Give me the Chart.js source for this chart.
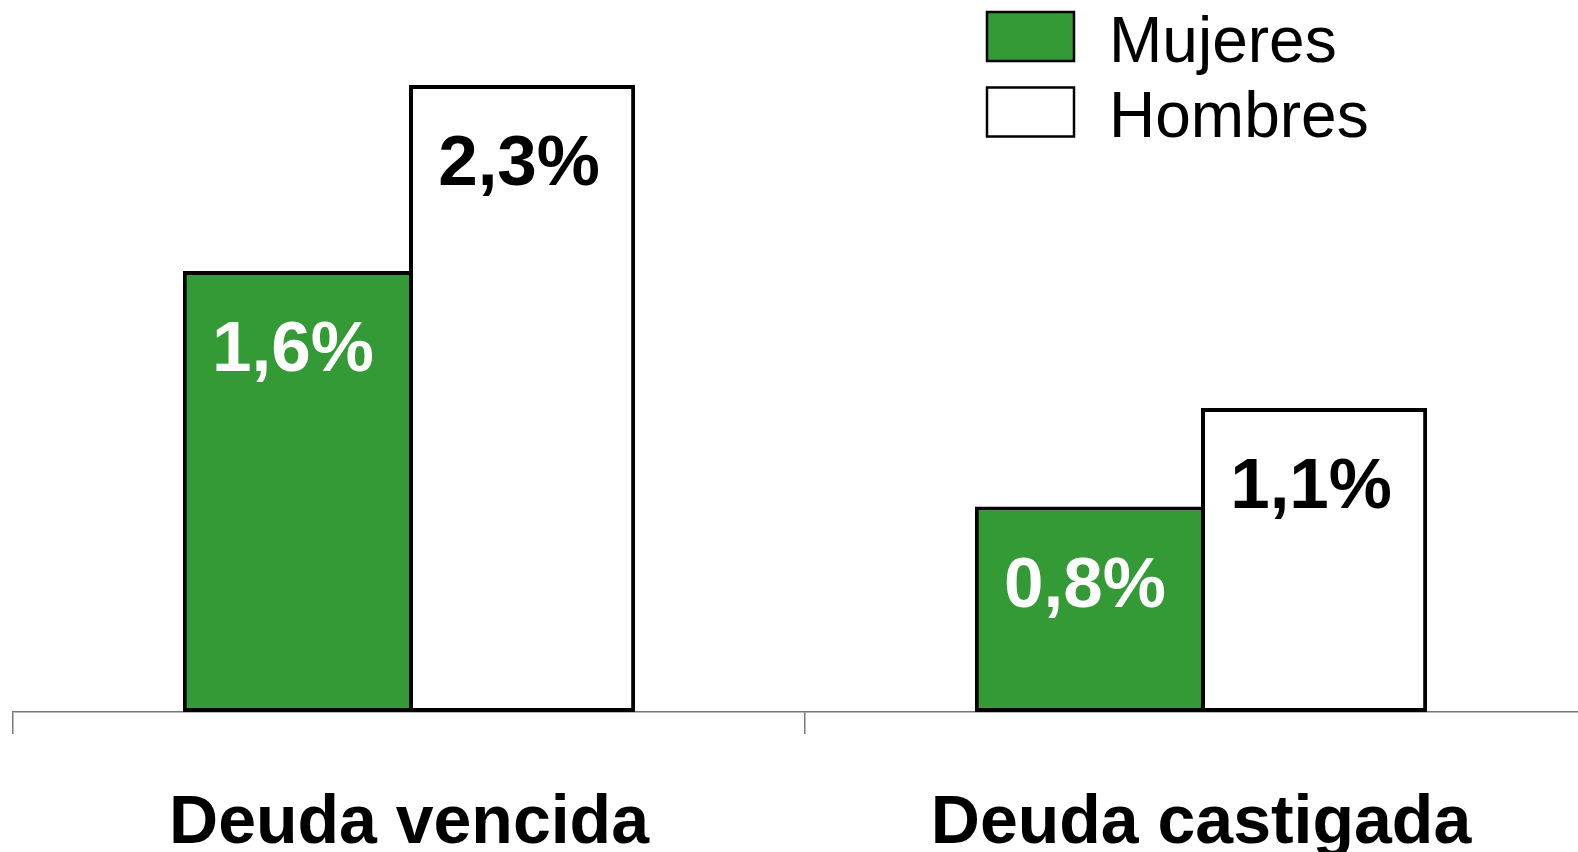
<!DOCTYPE html>
<html>
<head>
<meta charset="utf-8">
<script src="https://cdn.jsdelivr.net/npm/chart.js@4.4.1/dist/chart.umd.min.js"></script>
<style>
  html, body { margin: 0; padding: 0; background: #ffffff; overflow: hidden; }
  #wrap { width: 1578px; height: 852px; position: relative; overflow: hidden; }
  #c { display: block; }
</style>
</head>
<body>
<div id="wrap"><canvas id="c" width="1597" height="852"></canvas></div>
<script>
const categories = ['Deuda vencida', 'Deuda castigada'];
const seriesNames = ['Mujeres', 'Hombres'];
const mujeresValues = [1.61, 0.75];
const hombresValues = [2.29, 1.11];
const mujeresLabels = ['1,6%', '0,8%'];
const hombresLabels = ['2,3%', '1,1%'];

const FONT = '"Liberation Sans", Arial, Helvetica, sans-serif';
const GREEN = '#349a35';

const valueLabelPlugin = {
  id: 'valueLabels',
  afterDatasetsDraw(chart) {
    const ctx = chart.ctx;
    ctx.save();
    ctx.font = 'bold 71px ' + FONT;
    ctx.textAlign = 'center';
    ctx.textBaseline = 'alphabetic';
    chart.data.datasets.forEach((ds, di) => {
      const meta = chart.getDatasetMeta(di);
      meta.data.forEach((el, i) => {
        ctx.fillStyle = ds.labelColor;
        ctx.fillText(ds.valueLabels[i], el.x - 3, el.y + 100);
      });
    });
    ctx.restore();
  }
};

const legendPlugin = {
  id: 'customLegend',
  afterDraw(chart) {
    const ctx = chart.ctx;
    ctx.save();
    const boxX = 987, boxW = 87, boxH = 49, firstTop = 12, step = 75.5;
    ctx.font = '64px ' + FONT;
    ctx.textAlign = 'left';
    ctx.textBaseline = 'alphabetic';
    chart.data.datasets.forEach((ds, di) => {
      const top = firstTop + di * step;
      ctx.fillStyle = ds.backgroundColor;
      ctx.fillRect(boxX, top, boxW, boxH);
      ctx.lineWidth = 2.5;
      ctx.strokeStyle = '#000';
      ctx.strokeRect(boxX, top, boxW, boxH);
      ctx.fillStyle = '#000';
      ctx.fillText(ds.label, 1109, top + boxH + 0.5);
    });
    ctx.restore();
  }
};

new Chart(document.getElementById('c'), {
  type: 'bar',
  data: {
    labels: categories,
    datasets: [
      {
        label: seriesNames[0],
        data: mujeresValues,
        valueLabels: mujeresLabels,
        labelColor: '#ffffff',
        backgroundColor: GREEN,
        borderColor: '#000000',
        borderWidth: 4,
        borderSkipped: 'right'
      },
      {
        label: seriesNames[1],
        data: hombresValues,
        valueLabels: hombresLabels,
        labelColor: '#000000',
        backgroundColor: '#ffffff',
        borderColor: '#000000',
        borderWidth: 4,
        borderSkipped: false
      }
    ]
  },
  options: {
    responsive: false,
    animation: false,
    events: [],
    layout: { padding: { left: 13, right: 0, top: 0, bottom: 0 } },
    datasets: { bar: { barPercentage: 1.0, categoryPercentage: 0.571 } },
    plugins: {
      legend: { display: false },
      tooltip: { enabled: false }
    },
    scales: {
      x: {
        offset: true,
        afterFit(scale) { scale.height = 140; },
        grid: {
          display: true,
          offset: true,
          drawOnChartArea: false,
          drawTicks: true,
          tickLength: 22,
          color: '#777777',
          lineWidth: 1.5
        },
        border: { display: true, color: '#777777', width: 1.5 },
        ticks: {
          color: '#000000',
          font: { family: FONT, size: 68, weight: 'bold' },
          padding: 49,
          maxRotation: 0,
          minRotation: 0,
          autoSkip: false
        }
      },
      y: {
        display: false,
        min: 0,
        max: 2.6
      }
    }
  },
  plugins: [valueLabelPlugin, legendPlugin]
});
</script>
</body>
</html>
